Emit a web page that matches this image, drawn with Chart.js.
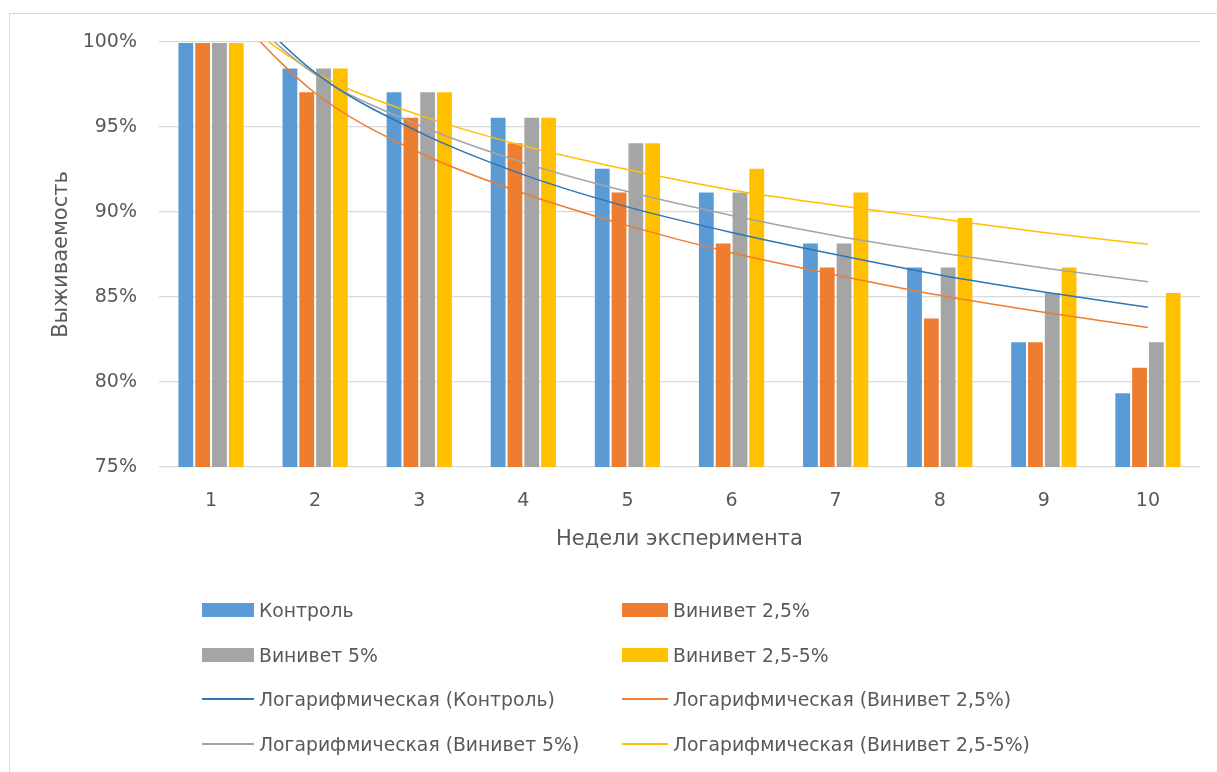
<!DOCTYPE html>
<html>
<head>
<meta charset="utf-8">
<script src="https://cdn.jsdelivr.net/npm/chart.js@4.4.0/dist/chart.umd.min.js"></script>
<style>
  body { margin: 0; background: #fff; font-family: "DejaVu Sans", sans-serif; }
  #frame { position: absolute; left: 9px; top: 13px; width: 1230px; height: 780px; border: 1px solid #d9d9d9; }
  #wrap { position: absolute; left: 0; top: 0; width: 1217px; height: 772px; }
  .item { position: absolute; display: flex; align-items: center; color: #595959; font-size: 18.8px; white-space: nowrap; }
  .sym { display: inline-block; margin-right: 5px; }
</style>
</head>
<body>
<div id="frame"></div>
<div id="wrap"><canvas id="chart" width="1217" height="772"></canvas></div>
<div id="legend"></div>
<script>
const weeks = ['1', '2', '3', '4', '5', '6', '7', '8', '9', '10'];

// survival, %
const control = [100, 98.5, 97.1, 95.6, 92.6, 91.2, 88.2, 86.8, 82.4, 79.4];
const vinivet25 = [100, 97.1, 95.6, 94.1, 91.2, 88.2, 86.8, 83.8, 82.4, 80.9];
const vinivet5 = [100, 98.5, 97.1, 95.6, 94.1, 91.2, 88.2, 86.8, 85.3, 82.4];
const vinivet255 = [100, 98.5, 97.1, 95.6, 94.1, 92.6, 91.2, 89.7, 86.8, 85.3];

// logarithmic trend lines (week 1 is above the top edge)
const trendControl = [104.1, 98.2, 94.7, 92.2, 90.3, 88.8, 87.5, 86.3, 85.3, 84.4];
const trend25 = [103.0, 97.0, 93.5, 91.1, 89.2, 87.6, 86.3, 85.1, 84.1, 83.2];
const trend5 = [103.4, 98.1, 95.1, 92.9, 91.2, 89.8, 88.6, 87.6, 86.7, 85.9];
const trend255 = [102.5, 98.2, 95.7, 93.9, 92.5, 91.3, 90.4, 89.6, 88.8, 88.1];

const yTicks = [75, 80, 85, 90, 95, 100];

const TEXT = '#595959';
const FONT = '"DejaVu Sans", sans-serif';

const bar = (label, data, color) => ({
  type: 'bar',
  label: label,
  data: data,
  backgroundColor: color,
  borderColor: 'rgba(255,255,255,0.3)',
  borderWidth: 1,
  categoryPercentage: 0.646,
  barPercentage: 1.0,
  order: 1,
});

const trend = (label, data, color) => ({
  type: 'line',
  label: label,
  data: data,
  borderColor: color,
  backgroundColor: color,
  borderWidth: 1.5,
  pointRadius: 0,
  fill: false,
  cubicInterpolationMode: 'monotone',
  order: 0,
});

const colors = ['#5b9bd5', '#ed7d31', '#a5a5a5', '#ffc000', '#2e75b6', '#ed7d31', '#a5a5a5', '#ffc000'];

const datasets = [
  bar('Контроль', control, colors[0]),
  bar('Винивет 2,5%', vinivet25, colors[1]),
  bar('Винивет 5%', vinivet5, colors[2]),
  bar('Винивет 2,5-5%', vinivet255, colors[3]),
  trend('Логарифмическая (Контроль)', trendControl, colors[4]),
  trend('Логарифмическая (Винивет 2,5%)', trend25, colors[5]),
  trend('Логарифмическая (Винивет 5%)', trend5, colors[6]),
  trend('Логарифмическая (Винивет 2,5-5%)', trend255, colors[7]),
];
const legendItems = datasets.map((d, i) => ({ label: d.label, kind: d.type, color: colors[i] }));

const ctx = document.getElementById('chart').getContext('2d');
new Chart(ctx, {
  type: 'bar',
  data: { labels: weeks, datasets: datasets },
  options: {
    responsive: false,
    animation: false,
    layout: { padding: { left: 0, top: 42, right: 17, bottom: 205 } },
    plugins: {
      legend: { display: false },
      tooltip: { enabled: false },
    },
    scales: {
      x: {
        grid: { display: false },
        border: { display: false },
        ticks: { color: TEXT, font: { family: FONT, size: 19 }, padding: 15 },
        title: {
          display: true,
          text: 'Недели эксперимента',
          color: TEXT,
          font: { family: FONT, size: 21 },
          padding: { top: 14.4, bottom: 14.4 },
        },
        afterFit: (s) => { s.height = 100; },
      },
      y: {
        min: 75,
        max: 100,
        afterBuildTicks: (s) => { s.ticks = yTicks.map(v => ({ value: v })); },
        grid: { color: '#d9d9d9', lineWidth: 1.3, drawTicks: false },
        border: { display: false },
        ticks: {
          color: TEXT,
          font: { family: FONT, size: 19 },
          padding: 22,
          callback: (v) => v + '%',
        },
        title: {
          display: true,
          text: 'Выживаемость',
          color: TEXT,
          font: { family: FONT, size: 21 },
          padding: { top: 49.4, bottom: 49.4 },
        },
        afterFit: (s) => { s.width = 159; },
      },
    },
  },
});

// legend, two columns like the original
const legend = document.getElementById('legend');
const colX = [202, 622];
const symW = [52, 46];
const rowY = [610, 655, 699, 744];
legendItems.forEach((it, i) => {
  const col = i % 2, row = Math.floor(i / 2);
  const el = document.createElement('div');
  el.className = 'item';
  el.style.left = colX[col] + 'px';
  el.style.top = (rowY[row] - 13) + 'px';
  el.style.height = '26px';
  const sym = document.createElement('span');
  sym.className = 'sym';
  sym.style.width = symW[col] + 'px';
  sym.style.height = it.kind === 'bar' ? '14px' : '2px';
  sym.style.background = it.color;
  el.appendChild(sym);
  el.appendChild(document.createTextNode(it.label));
  legend.appendChild(el);
});
</script>
</body>
</html>
